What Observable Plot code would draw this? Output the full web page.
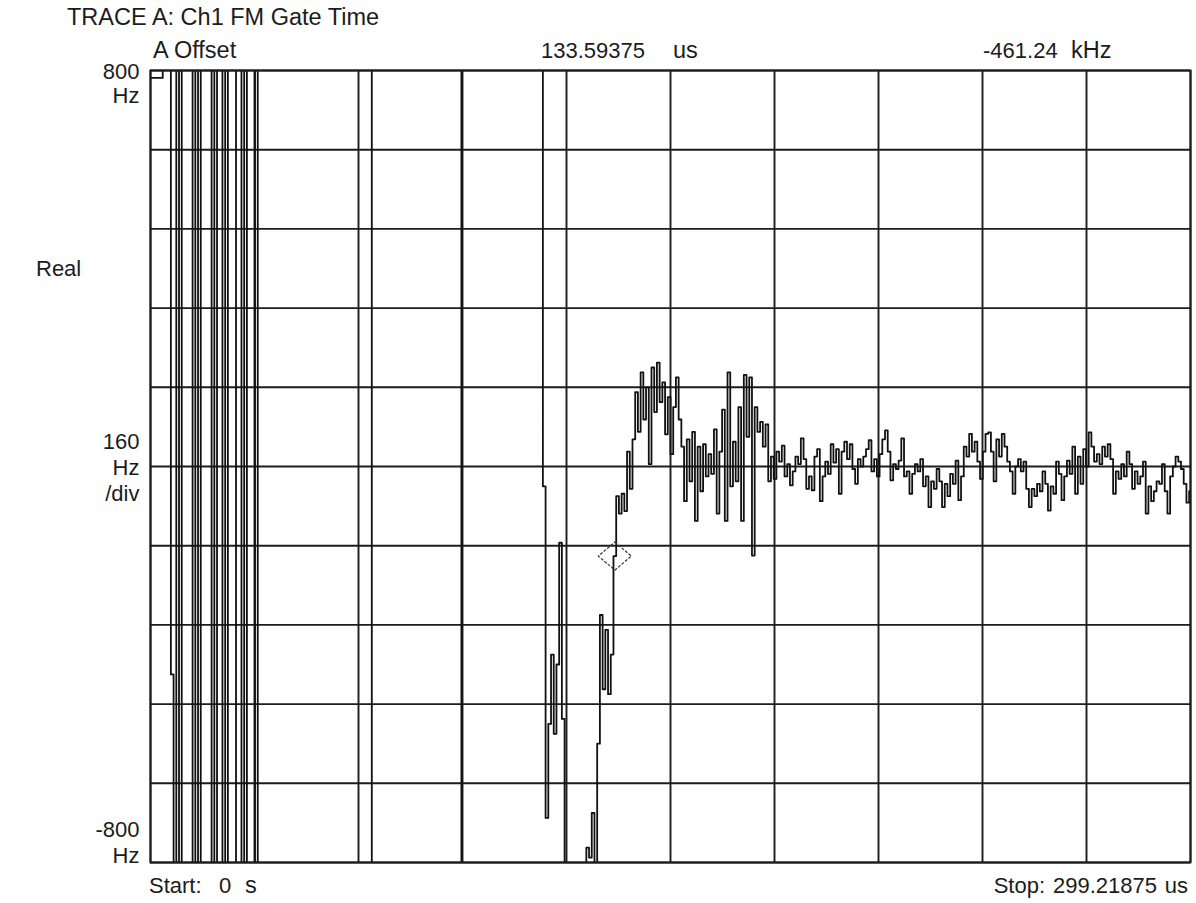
<!DOCTYPE html>
<html><head><meta charset="utf-8">
<script src="https://cdn.jsdelivr.net/npm/d3@7"></script>
<script src="https://cdn.jsdelivr.net/npm/@observablehq/plot@0.6"></script>
<style>
html,body{margin:0;padding:0;background:#fff;}
#chart{position:relative;width:1196px;height:903px;}
#chart svg text{font-family:"Liberation Sans",Arial,Helvetica,sans-serif;}
</style></head><body><div id="chart"></div>
<script>
// ---------- texts ----------
const traceTitle = "TRACE A: Ch1 FM Gate Time";
const formatLabel = "Real";
const markerLabel = "A Offset";
const markerTime = 133.59375;          // us
const markerTimeUnit = "us";
const markerReadout = "-461.24";
const markerReadoutUnit = "kHz";
const startParts = ["Start:", "0", "s"];
const stopParts = ["Stop:", "299.21875", "us"];

// ---------- scales ----------
const xStart = 0, xStop = 299.21875;   // us
const yBottom = -800, yTop = 800;      // Hz
const xDivisions = 10;
const yGridValues = [-800, -640, -480, -320, -160, 0, 160, 320, 480, 640, 800];
const yTickValues = [800, 0, -800];
const yTickLabels = [["800", "Hz"], ["160", "Hz", "/div"], ["-800", "Hz"]];

// ---------- trace (384 samples, Hz); T / B = off-scale (wrapped) ----------
const T = 1500, B = -1500;
const values = [
  785, 785, 785, 785, 785, T, T, T, -420, B,
  T, B, T, T, T, T, B, T, B, T,
  T, T, T, B, T, B, B, T, B, T,
  T, T, B, B, T, B, T, T, T, B,
  T, T, T, T, T, T, T, T, T, T,
  T, T, T, T, T, T, T, T, T, T,
  T, T, T, T, T, T, T, T, T, T,
  T, T, T, T, T, T, T, T, T, T,
  T, T, B, B, B, B, B, B, B, B,
  B, B, B, B, B, B, B, B, B, B,
  B, B, B, B, B, B, B, B, B, B,
  B, B, B, B, B, T, T, T, T, T,
  T, T, T, T, T, T, T, T, T, T,
  T, T, T, T, T, T, T, T, T, T,
  T, T, T, T, T, -40, -710, -520, -380, -540,
  -400, -154, -510, B, B, B, B, B, B, B,
  B, -770, -790, -700, B, -560, -300, -450, -330, -460,
  -380, -181, -60, -95, -55, -90, 30, -45, 55, 150,
  70, 190, 95, 160, 5, 200, 110, 210, 130, 170,
  65, 140, 25, 120, 180, 95, 40, -70, 55, -30,
  70, -110, 40, -50, 45, -20, 25, -15, 75, -95,
  30, 115, -110, 190, -40, 50, -30, 120, -110, 185,
  60, 180, -180, 120, 70, 90, 40, 85, -30, 20,
  -25, 30, 10, 42, -20, 5, -38, -10, 20, 5,
  57, 15, -45, -20, -48, 20, 35, -70, -20, 10,
  -15, 45, 8, 35, -55, 30, 50, 15, 45, -5,
  -35, 15, 0, 20, 35, 53, -10, 15, -20, 25,
  55, 73, 30, -28, 5, -5, 12, 57, -20, -10,
  -55, -15, 5, -10, 15, -40, -20, -82, -30, -45,
  -5, -30, -82, -35, -60, -15, -35, 12, -68, -20,
  40, 20, 66, 30, 50, 10, -25, 30, 66, 69,
  30, -30, 55, 20, 66, 40, 10, -10, -55, 0,
  15, -10, 10, -45, -82, -45, -60, -35, -50, -10,
  -35, -89, -40, -55, 10, -15, -68, -20, 12, -15,
  40, -55, 20, -35, 35, 0, 69, 40, 10, 25,
  5, 40, 20, 45, 15, -55, -10, -25, 5, -20,
  30, 5, -45, -10, -35, -20, 10, -95, -40, -70,
  -50, -30, -35, 5, -50, -95, -20, 0, 20, 10,
  -5, -35, -73, -50
];

// ---------- build ----------
const dt = (xStop - xStart) / 383;
const trace = values.map((v, i) => ({t: xStart + i * dt, v}));
const markerIndex = Math.round((markerTime - xStart) / dt);
const markerPoint = [{t: markerTime, v: values[markerIndex]}];
const xGridValues = d3.range(xDivisions + 1).map(k => xStart + k * (xStop - xStart) / xDivisions);
const yLabelRows = yTickValues.map((value, k) => ({value, label: yTickLabels[k].join("\n")}));

const wideDiamond = {
  draw(context, size) {
    const r = Math.sqrt(size / Math.PI);
    const w = r * 1.18, h = r;
    context.moveTo(0, -h); context.lineTo(w, 0); context.lineTo(0, h); context.lineTo(-w, 0); context.closePath();
  }
};

const ink = "#1c1c1c";
const fontSize = 22;
const wordSize = 23.5;
const chart = Plot.plot({
  width: 1196, height: 903,
  marginLeft: 150, marginRight: 6, marginTop: 70, marginBottom: 41,
  style: {background: "#fff", fontSize: fontSize + "px", fontFamily: "Liberation Sans, Arial, sans-serif"},
  x: {domain: [xStart, xStop], axis: null},
  y: {domain: [yBottom, yTop], axis: null},
  marks: [
    Plot.ruleX(xGridValues, {stroke: ink, strokeWidth: 1.9}),
    Plot.ruleY(yGridValues, {stroke: ink, strokeWidth: 1.9}),
    Plot.line(trace, {x: "t", y: "v", curve: "step", clip: true, stroke: "#111", strokeWidth: 1.8}),
    Plot.dot(markerPoint, {x: "t", y: "v", symbol: wideDiamond, r: 14, stroke: "#333", strokeWidth: 1.2, strokeDasharray: "3,1.5", fill: "none"}),
    Plot.frame({stroke: ink, strokeWidth: 1.9}),
    Plot.text(yLabelRows.slice(0, 1), {y: "value", text: "label", frameAnchor: "left", textAnchor: "end", lineAnchor: "top", lineHeight: 1.1, dx: -11, dy: -9, fill: ink, fontSize}),
    Plot.text(yLabelRows.slice(1, 2), {y: "value", text: "label", frameAnchor: "left", textAnchor: "end", lineAnchor: "middle", lineHeight: 1.18, dx: -11, fill: ink, fontSize}),
    Plot.text(yLabelRows.slice(2, 3), {y: "value", text: "label", frameAnchor: "left", textAnchor: "end", lineAnchor: "bottom", lineHeight: 1.15, dx: -11, fill: ink, fontSize})
  ]
});
document.getElementById("chart").appendChild(chart);

// header / footer annotations
const svg = d3.select(chart);
const ann = [
  {s: traceTitle, x: 67, y: 25, a: "start", f: wordSize},
  {s: markerLabel, x: 153, y: 58, a: "start", f: wordSize},
  {s: String(markerTime), x: 541, y: 58, a: "start", f: fontSize},
  {s: markerTimeUnit, x: 673, y: 58, a: "start", f: wordSize},
  {s: markerReadout, x: 983, y: 58, a: "start", f: fontSize},
  {s: markerReadoutUnit, x: 1071, y: 58, a: "start", f: wordSize},
  {s: formatLabel, x: 36, y: 276, a: "start", f: fontSize},
  {s: startParts[0], x: 149, y: 893, a: "start", f: fontSize},
  {s: startParts[1], x: 219, y: 893, a: "start", f: fontSize},
  {s: startParts[2], x: 245, y: 893, a: "start", f: wordSize},
  {s: stopParts[0], x: 1045, y: 893, a: "end", f: fontSize},
  {s: stopParts[1], x: 1157, y: 893, a: "end", f: fontSize},
  {s: stopParts[2], x: 1188, y: 893, a: "end", f: fontSize}
];
svg.append("g").selectAll("text").data(ann).join("text")
  .attr("x", d => d.x).attr("y", d => d.y)
  .attr("text-anchor", d => d.a)
  .attr("fill", ink).attr("font-size", d => d.f)
  .text(d => d.s);
if (values.length !== 384) svg.append("text").attr("x", 600).attr("y", 300).attr("fill", "red").text("LEN " + values.length);
</script></body></html>
